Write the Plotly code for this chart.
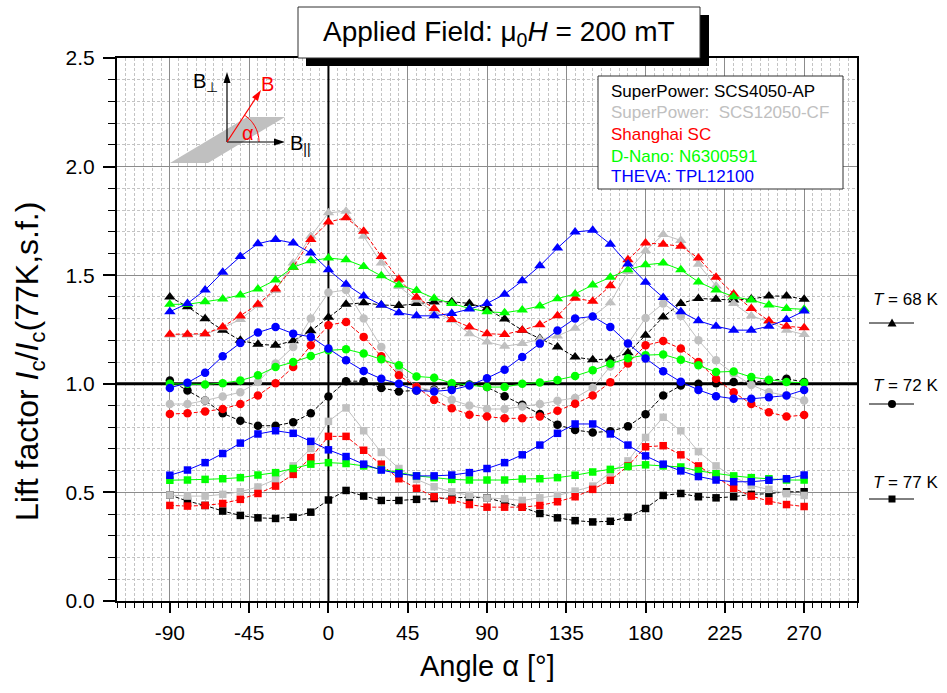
import plotly.graph_objects as go
import math

angles = list(range(-90, 271, 10))
x_tick_values = [-90, -45, 0, 45, 90, 135, 180, 225, 270]
x_tick_labels = ["-90", "-45", "0", "45", "90", "135", "180", "225", "270"]

# T = 68 K (triangles)
scs4050_68 = [1.400, 1.355, 1.300, 1.247, 1.200, 1.182, 1.177, 1.198, 1.244, 1.306, 1.366, 1.373, 1.363,
              1.360, 1.370, 1.377, 1.378, 1.370, 1.347, 1.298, 1.247, 1.208, 1.170, 1.123, 1.111, 1.114,
              1.143, 1.223, 1.308, 1.370, 1.393, 1.389, 1.386, 1.390, 1.404, 1.404, 1.389]
scs12050_68 = [1.225, 1.225, 1.228, 1.258, 1.296, 1.360, 1.430, 1.556, 1.679, 1.787, 1.795, 1.679, 1.556,
               1.448, 1.386, 1.330, 1.293, 1.231, 1.193, 1.173, 1.185, 1.205, 1.220, 1.256, 1.310, 1.373,
               1.517, 1.613, 1.687, 1.660, 1.550, 1.450, 1.370, 1.312, 1.287, 1.247, 1.227]
shanghai_68 = [1.228, 1.228, 1.231, 1.262, 1.312, 1.366, 1.437, 1.537, 1.664, 1.745, 1.764, 1.702, 1.586,
               1.481, 1.398, 1.347, 1.296, 1.262, 1.231, 1.227, 1.247, 1.272, 1.313, 1.394, 1.380, 1.451,
               1.571, 1.648, 1.643, 1.633, 1.579, 1.491, 1.414, 1.347, 1.290, 1.265, 1.258]
dnano_68 = [1.366, 1.366, 1.378, 1.390, 1.409, 1.437, 1.478, 1.537, 1.566, 1.579, 1.571, 1.540, 1.497,
            1.455, 1.429, 1.394, 1.370, 1.347, 1.332, 1.327, 1.340, 1.358, 1.392, 1.414, 1.455, 1.491,
            1.525, 1.548, 1.556, 1.525, 1.469, 1.432, 1.401, 1.386, 1.363, 1.347, 1.343]
theva_68 = [1.332, 1.370, 1.432, 1.514, 1.586, 1.645, 1.664, 1.648, 1.602, 1.525, 1.458, 1.404, 1.363,
            1.327, 1.313, 1.313, 1.324, 1.344, 1.370, 1.412, 1.474, 1.543, 1.625, 1.699, 1.707, 1.643,
            1.552, 1.468, 1.397, 1.332, 1.290, 1.265, 1.247, 1.247, 1.265, 1.296, 1.335]

# T = 72 K (circles)
scs4050_72 = [1.015, 0.969, 0.923, 0.864, 0.830, 0.807, 0.807, 0.823, 0.864, 0.941, 1.012, 1.012, 0.981,
              0.965, 0.969, 0.974, 0.985, 0.997, 0.985, 0.943, 0.903, 0.861, 0.812, 0.787, 0.776, 0.781,
              0.804, 0.860, 0.946, 0.992, 1.000, 1.003, 1.008, 1.008, 1.015, 1.023, 1.008]
scs12050_72 = [0.907, 0.907, 0.923, 0.941, 0.961, 1.008, 1.093, 1.170, 1.301, 1.420, 1.432, 1.301, 1.170,
               1.062, 0.985, 0.969, 0.926, 0.900, 0.884, 0.884, 0.895, 0.907, 0.922, 0.935, 0.982, 1.080,
               1.185, 1.303, 1.370, 1.312, 1.201, 1.108, 1.046, 0.995, 0.961, 0.946, 0.923]
shanghai_72 = [0.861, 0.864, 0.873, 0.884, 0.907, 0.946, 1.003, 1.077, 1.177, 1.270, 1.285, 1.216, 1.127,
               1.039, 0.985, 0.926, 0.887, 0.858, 0.849, 0.841, 0.841, 0.850, 0.876, 0.908, 0.946, 1.007,
               1.094, 1.177, 1.197, 1.162, 1.100, 1.023, 0.961, 0.907, 0.869, 0.849, 0.856]
dnano_72 = [1.000, 1.000, 0.997, 1.003, 1.015, 1.039, 1.077, 1.100, 1.128, 1.154, 1.159, 1.139, 1.113,
            1.085, 1.034, 1.028, 1.003, 0.995, 0.985, 0.985, 1.000, 1.006, 1.018, 1.036, 1.062, 1.092,
            1.118, 1.132, 1.135, 1.111, 1.085, 1.054, 1.057, 1.031, 1.019, 1.008, 1.005]
theva_72 = [0.981, 1.005, 1.051, 1.127, 1.188, 1.236, 1.262, 1.231, 1.216, 1.162, 1.108, 1.059, 1.023,
            1.000, 0.969, 0.965, 0.972, 0.992, 1.026, 1.065, 1.123, 1.185, 1.245, 1.301, 1.310, 1.262,
            1.186, 1.117, 1.058, 1.009, 0.972, 0.943, 0.931, 0.931, 0.938, 0.946, 0.972]

# T = 77 K (squares)
scs4050_77 = [0.488, 0.460, 0.440, 0.414, 0.394, 0.383, 0.380, 0.386, 0.409, 0.465, 0.509, 0.483, 0.463,
              0.463, 0.468, 0.472, 0.475, 0.478, 0.475, 0.455, 0.432, 0.403, 0.383, 0.370, 0.364, 0.367,
              0.386, 0.426, 0.486, 0.495, 0.480, 0.475, 0.480, 0.491, 0.494, 0.503, 0.503]
scs12050_77 = [0.488, 0.483, 0.483, 0.491, 0.503, 0.525, 0.560, 0.622, 0.702, 0.827, 0.889, 0.784, 0.684,
               0.610, 0.560, 0.526, 0.503, 0.486, 0.474, 0.471, 0.463, 0.475, 0.486, 0.506, 0.529, 0.591,
               0.645, 0.753, 0.846, 0.784, 0.688, 0.622, 0.571, 0.532, 0.514, 0.494, 0.486]
shanghai_77 = [0.440, 0.437, 0.440, 0.449, 0.468, 0.495, 0.529, 0.583, 0.660, 0.758, 0.758, 0.694, 0.630,
               0.563, 0.519, 0.480, 0.465, 0.444, 0.432, 0.432, 0.432, 0.440, 0.457, 0.480, 0.514, 0.556,
               0.622, 0.710, 0.715, 0.673, 0.622, 0.573, 0.519, 0.483, 0.460, 0.444, 0.435]
dnano_77 = [0.556, 0.557, 0.560, 0.563, 0.568, 0.580, 0.591, 0.610, 0.630, 0.637, 0.633, 0.622, 0.606,
            0.591, 0.576, 0.568, 0.560, 0.557, 0.557, 0.557, 0.562, 0.563, 0.568, 0.579, 0.594, 0.606,
            0.619, 0.627, 0.622, 0.617, 0.599, 0.586, 0.576, 0.568, 0.563, 0.557, 0.557]
theva_77 = [0.579, 0.603, 0.637, 0.679, 0.727, 0.769, 0.784, 0.772, 0.735, 0.696, 0.665, 0.630, 0.603,
            0.586, 0.576, 0.576, 0.580, 0.591, 0.610, 0.637, 0.673, 0.718, 0.772, 0.815, 0.815, 0.769,
            0.718, 0.668, 0.630, 0.599, 0.573, 0.557, 0.549, 0.549, 0.556, 0.563, 0.580]

manufacturers = ["SuperPower: SCS4050-AP", "SuperPower:  SCS12050-CF", "Shanghai SC",
                 "D-Nano: N6300591", "THEVA: TPL12100"]
colors = ["#000000", "#c0c0c0", "#ff0000", "#00ff00", "#0000ff"]
dashes = ["4px,2px", "solid", "4px,2px", "solid", "solid"]
temperatures = ["T = 68 K", "T = 72 K", "T = 77 K"]
symbols = ["triangle-up", "circle", "square"]
msizes = [10, 8.5, 7.5]

series = [
    [scs4050_68, scs4050_72, scs4050_77],
    [scs12050_68, scs12050_72, scs12050_77],
    [shanghai_68, shanghai_72, shanghai_77],
    [dnano_68, dnano_72, dnano_77],
    [theva_68, theva_72, theva_77],
]

X_RANGE = [-120, 300]
Y_RANGE = [0, 2.5]
REF_ANGLE = 0
REF_LIFT = 1.0

FONT = "Liberation Sans, Arial, sans-serif"
W, H = 947, 693
L, R, T, B = 117, 857, 58, 601


def px(x):
    return (x - L) / (R - L)


def py(y):
    return (B - y) / (B - T)


fig = go.Figure()
# reference lines (under the data, above the grid)
fig.add_trace(go.Scatter(x=[REF_ANGLE, REF_ANGLE], y=Y_RANGE, mode="lines",
                         line=dict(color="black", width=2), hoverinfo="skip", showlegend=False))
fig.add_trace(go.Scatter(x=X_RANGE, y=[REF_LIFT, REF_LIFT], mode="lines",
                         line=dict(color="black", width=3), hoverinfo="skip", showlegend=False))

for mi, man in enumerate(manufacturers):
    for ti, temp in enumerate(temperatures):
        fig.add_trace(go.Scatter(
            x=angles, y=series[mi][ti], mode="lines+markers", name=f"{man} {temp}",
            line=dict(color=colors[mi], width=1, dash=dashes[mi]),
            marker=dict(symbol=symbols[ti], size=msizes[ti], color=colors[mi], line=dict(width=0)),
            showlegend=False))

shapes = []

# title box with shadow
shapes.append(dict(type="rect", xref="paper", yref="paper", x0=px(306), x1=px(709), y0=py(66), y1=py(15),
                   fillcolor="black", line=dict(width=0), layer="above"))
shapes.append(dict(type="rect", xref="paper", yref="paper", x0=px(298), x1=px(700), y0=py(58), y1=py(7),
                   fillcolor="white", line=dict(color="#303030", width=1), layer="above"))

# legend box
shapes.append(dict(type="rect", xref="paper", yref="paper", x0=px(598), x1=px(843), y0=py(189), y1=py(76),
                   fillcolor="white", line=dict(color="#303030", width=1), layer="above"))

# inset: tape sketch
shapes.append(dict(type="path", xref="paper", yref="paper",
                   path=f"M {px(170)} {py(163)} L {px(208)} {py(163)} L {px(285)} {py(117)} L {px(247)} {py(117)} Z",
                   fillcolor="#c0c0c0", line=dict(width=0), layer="above"))
ox, oy = 227, 142
arc_pts = []
for k in range(0, 21):
    th = math.radians(57 * k / 20)
    arc_pts.append((ox + 32 * math.cos(th), oy - 32 * math.sin(th)))
arc_path = "M " + " L ".join(f"{px(a)} {py(b)}" for a, b in arc_pts)
shapes.append(dict(type="path", xref="paper", yref="paper", path=arc_path,
                   line=dict(color="#ff0000", width=1), layer="above"))


def arrow(x0, y0, x1, y1, color):
    dx, dy = x1 - x0, y1 - y0
    d = math.hypot(dx, dy)
    ux, uy = dx / d, dy / d
    nx, ny = -uy, ux
    hl, hw = 11, 3.5
    bx, by = x1 - hl * ux, y1 - hl * uy
    shapes.append(dict(type="line", xref="paper", yref="paper", x0=px(x0), y0=py(y0), x1=px(bx + 2 * ux),
                       y1=py(by + 2 * uy), line=dict(color=color, width=1.2), layer="above"))
    shapes.append(dict(type="path", xref="paper", yref="paper",
                       path=(f"M {px(x1)} {py(y1)} L {px(bx + hw * nx)} {py(by + hw * ny)} "
                             f"L {px(bx - hw * nx)} {py(by - hw * ny)} Z"),
                       fillcolor=color, line=dict(width=0), layer="above"))


arrow(ox, oy, ox, 72, "black")
arrow(ox, oy, 285, oy, "black")
arrow(ox, oy, 261, 90, "#ff0000")

# temperature key on the right
key_y = [323, 404, 499]
for ti in range(3):
    yy = key_y[ti]
    shapes.append(dict(type="line", xref="paper", yref="paper", x0=px(869), x1=px(914), y0=py(yy), y1=py(yy),
                       line=dict(color="black", width=1)))
    cx = 892
    if ti == 0:
        shapes.append(dict(type="path", xref="paper", yref="paper",
                           path=f"M {px(cx-4.5)} {py(yy+3.5)} L {px(cx+4.5)} {py(yy+3.5)} L {px(cx)} {py(yy-4.5)} Z",
                           fillcolor="black", line=dict(width=0)))
    elif ti == 1:
        shapes.append(dict(type="circle", xref="paper", yref="paper", x0=px(cx-4), x1=px(cx+4),
                           y0=py(yy+4), y1=py(yy-4), fillcolor="black", line=dict(width=0)))
    else:
        shapes.append(dict(type="rect", xref="paper", yref="paper", x0=px(cx-3.5), x1=px(cx+3.5),
                           y0=py(yy+3.5), y1=py(yy-3.5), fillcolor="black", line=dict(width=0)))

annotations = []


def text(x, y, s, size, color="black", xanchor="center", yanchor="middle", angle=0):
    annotations.append(dict(x=px(x), y=py(y), xref="paper", yref="paper", text=s, showarrow=False,
                            xanchor=xanchor, yanchor=yanchor, textangle=angle,
                            font=dict(family=FONT, size=size, color=color)))


text(499, 33, "Applied Field: μ<sub>0</sub><i>H</i> = 200 mT", 28)
leg_y = [92, 113, 134, 156, 176]
for mi, man in enumerate(manufacturers):
    text(609, leg_y[mi], man, 17, colors[mi], xanchor="left")

for ti, lab in enumerate(["<i>T</i> = 68 K", "<i>T</i> = 72 K", "<i>T</i> = 77 K"]):
    text(871, [299, 385, 482][ti], lab, 17, xanchor="left")

# inset labels
text(191, 82, "B<sub>⊥</sub>", 20, xanchor="left")
text(288, 144, "B<sub>||</sub>", 20, xanchor="left")
text(267, 84, "B", 20, "#ff0000")
text(248, 133, "α", 20, "#ff0000")

# axis titles
text(487, 666, "Angle α [°]", 29)
text(29, 362, "Lift factor <i>I</i><sub>c</sub>/<i>I</i><sub>c</sub>(77K,s.f.)", 32, angle=-90)

fig.update_layout(
    width=W, height=H, margin=dict(l=L, r=W - R, t=T, b=H - B, pad=0),
    paper_bgcolor="white", plot_bgcolor="white",
    shapes=shapes, annotations=annotations, showlegend=False,
    font=dict(family=FONT, size=21, color="black"),
)
fig.update_xaxes(
    range=X_RANGE, tickmode="array", tickvals=x_tick_values, ticktext=x_tick_labels,
    ticks="outside", ticklen=10, tickwidth=1.5, tickcolor="black",
    showline=True, linecolor="black", linewidth=2, mirror=True, zeroline=False,
    showgrid=True, gridcolor="#8c8c8c", gridwidth=1, ticklabelstandoff=2,
    tickfont=dict(family=FONT, size=21),
    minor=dict(tick0=0, dtick=5, ticks="outside", ticklen=5, tickcolor="black", tickwidth=1,
               showgrid=True, gridcolor="#c4c4c4", griddash="3px,2px", gridwidth=1),
)
fig.update_yaxes(
    range=Y_RANGE, tick0=0, dtick=0.5, tickformat=".1f", ticks="outside", ticklen=12, tickwidth=1.5,
    tickcolor="black", showline=True, linecolor="black", linewidth=2, mirror=True, zeroline=False,
    showgrid=True, gridcolor="#8c8c8c", gridwidth=1, ticklabelstandoff=4,
    tickfont=dict(family=FONT, size=21),
    minor=dict(tick0=0, dtick=0.1, ticks="outside", ticklen=7, tickcolor="black", tickwidth=1,
               showgrid=True, gridcolor="#c4c4c4", griddash="3px,2px", gridwidth=1),
)

fig.write_html("out.html")
